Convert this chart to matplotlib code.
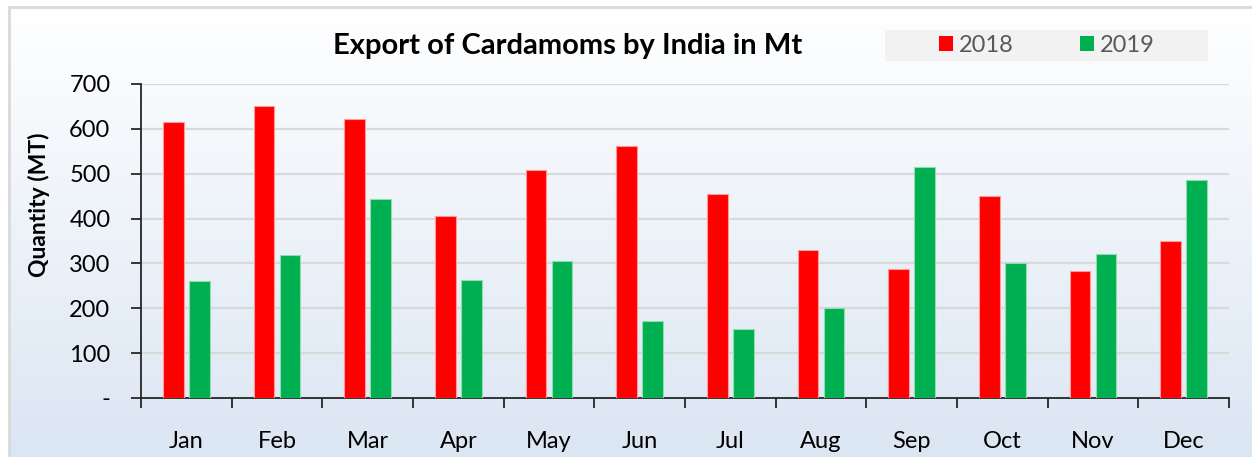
import numpy as np
import matplotlib
matplotlib.use("Agg")
from matplotlib import pyplot as plt
from matplotlib.patches import Rectangle, Patch

# data
months = ["Jan", "Feb", "Mar", "Apr", "May", "Jun",
          "Jul", "Aug", "Sep", "Oct", "Nov", "Dec"]
qty_2018 = [615, 650, 621, 405, 508, 561, 454, 330, 287, 450, 283, 351]
qty_2019 = [261, 318, 444, 262, 306, 172, 154, 201, 514, 302, 321, 486]
series_names = ["2018", "2019"]
yticks = [0, 100, 200, 300, 400, 500, 600, 700]
ytick_labels = ["-", "100", "200", "300", "400", "500", "600", "700"]

plt.rcParams['font.family'] = ['Lato', 'DejaVu Sans']

W, H = 1252, 457
fig = plt.figure(figsize=(W/100, H/100), dpi=100)

# background gradient panel with light border
bg = fig.add_axes([9/W, 0, 1 - 9/W, 1 - 7/H], zorder=-5)
grad = np.linspace(0, 1, 256).reshape(-1, 1)
top_c = np.array([1.0, 1.0, 1.0])
bot_c = np.array([0xdb, 0xe6, 0xf3]) / 255
img = top_c[None, None, :] * (1 - grad[:, :, None]) + bot_c[None, None, :] * grad[:, :, None]
bg.imshow(img, aspect='auto', extent=[0, 1, 0, 1])
bg.set_xticks([])
bg.set_yticks([])
for s in ['right', 'bottom']:
    bg.spines[s].set_visible(False)
for s in ['left', 'top']:
    bg.spines[s].set_color('#d9d9d9')
    bg.spines[s].set_linewidth(2)

ax = fig.add_axes([141/W, 1 - 398/H, (1229 - 141)/W, (398 - 84)/H])
ax.set_facecolor('none')

x = np.arange(len(months))
w = 0.23
off = 0.143
ax.bar(x - off, qty_2018, w, color='#ff0000', edgecolor='#ff9a9a', linewidth=0.8, zorder=3)
ax.bar(x + off, qty_2019, w, color='#00b050', edgecolor='#8fdcb0', linewidth=0.8, zorder=3)

ax.set_xlim(-0.5, len(months) - 0.5)
ax.set_ylim(0, 700)
ax.set_yticks(yticks)
ax.set_yticklabels(ytick_labels, fontsize=17)
ax.yaxis.grid(True, color='#d9d9d9', linewidth=1.6, zorder=0)
ax.set_axisbelow(True)

# category ticks at boundaries, labels at centres
ax.set_xticks(np.arange(len(months) + 1) - 0.5)
ax.set_xticklabels([])
ax.set_xticks(x, minor=True)
ax.set_xticklabels(months, minor=True, fontsize=17)
ax.tick_params(axis='x', which='major', length=7, width=1.3, color='#262626', direction='out')
ax.tick_params(axis='x', which='minor', length=0, pad=24)
ax.tick_params(axis='y', length=7, width=1.3, color='#262626', pad=15)

for s in ['top', 'right']:
    ax.spines[s].set_visible(False)
for s in ['left', 'bottom']:
    ax.spines[s].set_color('#262626')
    ax.spines[s].set_linewidth(1.3)

ax.set_ylabel("Quantity (MT)", fontsize=16.5, fontweight='bold')
ax.yaxis.set_label_coords(-0.0836, 0.615)

fig.text(568/W, 1 - 46/H, "Export of Cardamoms by India in Mt",
         fontsize=21, fontweight='bold', ha='center', va='center')

# legend box
fig.patches.append(Rectangle((885/W, 1 - 61/H), (1208 - 885)/W, 31/H,
                             transform=fig.transFigure, facecolor='#f2f2f2',
                             edgecolor='none', zorder=1))
handles = [Patch(facecolor='#ff0000', edgecolor='none'),
           Patch(facecolor='#00b050', edgecolor='none')]
leg = fig.legend(handles, series_names, loc='center', bbox_to_anchor=(1047/W, 1 - 45/H),
                 ncol=2, frameon=False, fontsize=17, handlelength=0.6, handleheight=0.6,
                 handletextpad=0.25, columnspacing=2.8, labelcolor='#595959')
leg.set_zorder(2)

fig.savefig("out.png", dpi=100)
